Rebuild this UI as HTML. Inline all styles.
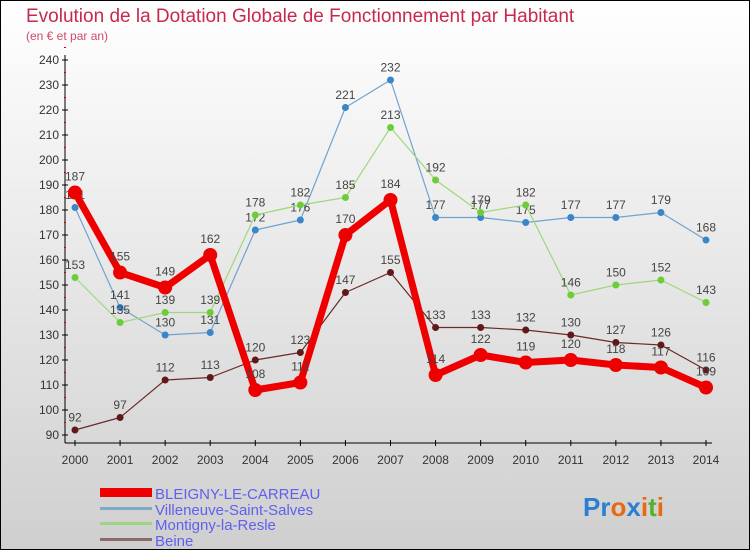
<!DOCTYPE html>
<html><head><meta charset="utf-8"><style>
body{margin:0;width:750px;height:550px;overflow:hidden;font-family:"Liberation Sans",sans-serif}
svg{display:block}
</style></head><body>
<svg id="chart" width="750" height="550" xmlns="http://www.w3.org/2000/svg">
<defs><linearGradient id="bg" x1="0" y1="0" x2="0" y2="1"><stop offset="0" stop-color="#ffffff"/><stop offset="1" stop-color="#cfcfcf"/></linearGradient></defs>
<rect x="0.5" y="0.5" width="749" height="549" fill="url(#bg)" stroke="#000"/>
<text x="26" y="22" font-size="19" fill="#c8284f">Evolution de la Dotation Globale de Fonctionnement par Habitant</text>
<text x="26" y="40" font-size="12" fill="#d04a6a">(en € et par an)</text>
<g id="axes"></g>
<g id="series"></g>
<g>
<rect x="100" y="488" width="52" height="9" fill="#e00"/>
<text x="155" y="499" font-size="15" fill="#6060ee">BLEIGNY-LE-CARREAU</text>
<rect x="100" y="507" width="52" height="3" fill="#7fa9c8"/>
<text x="155" y="515" font-size="15" fill="#6060ee">Villeneuve-Saint-Salves</text>
<rect x="100" y="522" width="52" height="3" fill="#9ed384"/>
<text x="155" y="530" font-size="15" fill="#6060ee">Montigny-la-Resle</text>
<rect x="100" y="538" width="52" height="3" fill="#8a6a6a"/>
<text x="155" y="546" font-size="15" fill="#6060ee">Beine</text>
</g>
<text x="583" y="516" font-size="26" font-weight="bold"><tspan fill="#2a7fd0">Pr</tspan><tspan fill="#e86a10">o</tspan><tspan fill="#2a7fd0">x</tspan><tspan fill="#e86a10">i</tspan><tspan fill="#56b030">t</tspan><tspan fill="#e86a10">i</tspan></text>
</svg>
<script>
const years=[2000,2001,2002,2003,2004,2005,2006,2007,2008,2009,2010,2011,2012,2013,2014];
const yTicks=[90,100,110,120,130,140,150,160,170,180,190,200,210,220,230,240];
const bleigny=[187,155,149,162,108,111,170,184,114,122,119,120,118,117,109];
const villeneuve=[181,141,130,131,172,176,221,232,177,177,175,177,177,179,168];
const montigny=[153,135,139,139,178,182,185,213,192,179,182,146,150,152,143];
const beine=[92,97,112,113,120,123,147,155,133,133,132,130,127,126,116];
const NS="http://www.w3.org/2000/svg";
const xS=i=>75+(706-75)*i/(years.length-1);
const yS=v=>435-(v-90)*(375/150);
function mk(tag,attrs,parent){const e=document.createElementNS(NS,tag);for(const k in attrs)e.setAttribute(k,attrs[k]);parent.appendChild(e);return e;}
const ax=document.getElementById('axes');
const yAxis=mk('line',{x1:65,y1:55,x2:65,y2:443,stroke:'#000','stroke-width':1},ax);


const xAxis=mk('line',{x1:65,y1:443,x2:712,y2:443,stroke:'#000','stroke-width':1},ax);


yTicks.forEach(v=>{
  const y=yS(v);
  mk('line',{x1:62,y1:y,x2:68,y2:y,stroke:'#000'},ax);
  mk('line',{x1:64,y1:y-12.5,x2:66,y2:y-12.5,stroke:'#c00'},ax);
  const t=mk('text',{x:59,y:y+4,'font-size':12,fill:'#333','text-anchor':'end'},ax);
  t.textContent=v;
  
  
});
years.forEach((yr,i)=>{
  const x=xS(i);
  mk('line',{x1:x,y1:440,x2:x,y2:446,stroke:'#000'},ax);
  const t=mk('text',{x:x,y:464,'font-size':12,fill:'#333','text-anchor':'middle'},ax);
  t.textContent=yr;
  
  
});
const sg=document.getElementById('series');
function draw(data,name,color,dot,w,r){
  const g=mk('g',{},sg);
  
  
  const pl=mk('polyline',{points:data.map((v,i)=>xS(i)+','+yS(v)).join(' '),fill:'none',stroke:color,'stroke-width':w,'stroke-linejoin':'round'},g);
  
  
  data.forEach((v,i)=>{
    const c=mk('circle',{cx:xS(i),cy:yS(v),r:r,fill:dot},g);
    
    
    const t=mk('text',{x:xS(i),y:yS(v)-r-5,'font-size':12,fill:'#444','text-anchor':'middle'},g);
    t.textContent=v;
    
    
  });
}
draw(villeneuve,'villeneuve','#6fa3cf','#3a86c8',1.2,3.5);
draw(montigny,'montigny','#9ed87a','#6ccc3a',1.2,3.5);
draw(beine,'beine','#6a2a2a','#601818',1.2,3.5);
draw(bleigny,'bleigny','#ee0000','#ee0000',7,7);
</script>
</body></html>
